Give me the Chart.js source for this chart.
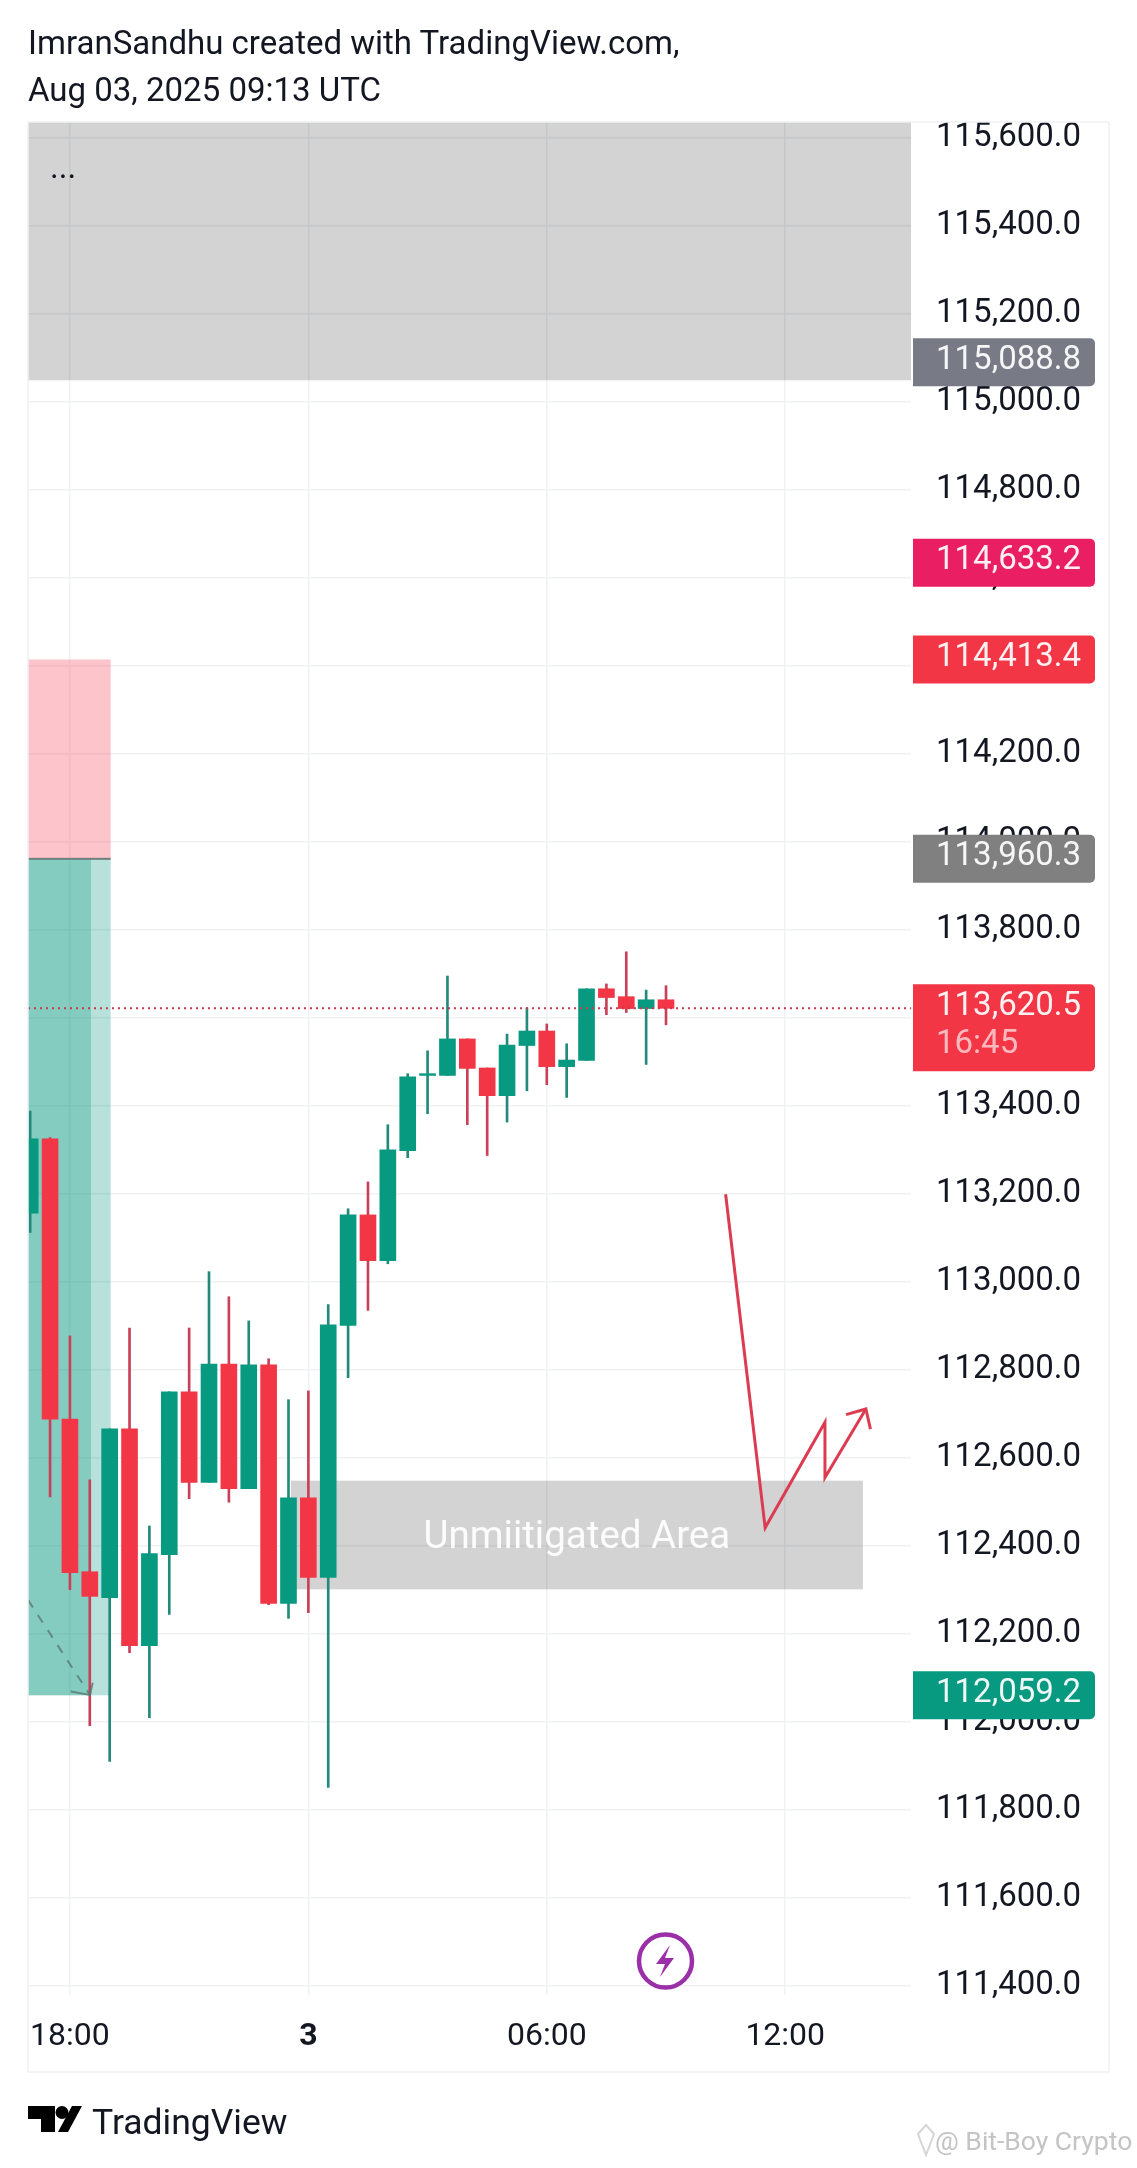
<!DOCTYPE html>
<html>
<head>
<meta charset="utf-8">
<title>BTCUSD 30m</title>
<script src="https://cdn.jsdelivr.net/npm/chart.js@4/dist/chart.umd.min.js"></script>
<style>
html,body{margin:0;padding:0;background:#fff;font-family:Roboto,sans-serif;color:#131722}
#wrap{position:relative;width:1137px;height:2168px;overflow:hidden}
#c{position:absolute;left:0;top:0}
.t{position:absolute;white-space:nowrap}
#head{left:28px;top:19px;font-size:33px;line-height:47px}
#more{left:50px;top:147px;font-size:33px}
#brand{left:92px;top:2098px;font-size:35.500px;line-height:48px}
#mark{left:935px;top:2122px;font-size:26.500px;line-height:38px;color:#c4c4c4}
svg{position:absolute;left:0;top:0}
</style>
</head>
<body>
<div id="wrap">
  <canvas id="c" width="1137" height="2168"></canvas>
  <div class="t" id="head">ImranSandhu created with TradingView.com,<br>Aug 03, 2025 09:13 UTC</div>
  <div class="t" id="more">...</div>
  <div class="t" id="brand">TradingView</div>
  <div class="t" id="mark">@ Bit-Boy Crypto</div>
  <svg width="1137" height="2168">
    <path d="M28 2106H55V2132H41V2119H28Z" fill="#000"/><circle cx="62" cy="2112.500" r="6.500" fill="#000"/><path d="M72 2106H82L68 2132H58Z" fill="#000"/>
    <circle cx="665.500" cy="1961" r="26.500" fill="#fff" stroke="#9a2fa8" stroke-width="4.500"/>
    <path d="M670 1945L656 1964H665L660 1977L674 1958H665Z" fill="#9a2fa8"/>
    <path d="M918 2134L926 2125L934 2134L926 2155Z" fill="none" stroke="#d5d5d5" stroke-width="2"/>
  </svg>
</div>
<script>
// ── Data ──────────────────────────────────────────────────────────────────────
const opens =[113155,113324,112687,112340,112281,112665,112172,112379,112749,112543,112812,112529,112810,112268,112508,112327,112900,113151,113047,113297,113468,113468,113551,113485,113422,113536,113569,113488,113502,113665,113647,113620,113640];
const highs =[113387,113327,112876,112549,112665,112894,112444,112749,112894,113022,112965,112910,112824,112731,112751,112947,113165,113226,113356,113472,113524,113694,113551,113485,113562,113622,113585,113540,113665,113676,113749,113662,113672];
const lows  =[113111,112510,112299,111990,111909,112156,112008,112243,112506,112543,112498,112529,112265,112234,112247,111850,112781,112934,113040,113281,113381,113468,113356,113286,113362,113433,113447,113418,113502,113606,113611,113493,113583];
const closes=[113324,112687,112338,112284,112665,112172,112381,112749,112543,112812,112529,112810,112268,112508,112327,112901,113151,113047,113299,113465,113472,113551,113484,113422,113537,113569,113488,113503,113665,113645,113620,113640,113620.5];

const yTicks=[111400,111600,111800,112000,112200,112400,112600,112800,113000,113200,113400,113600,113800,114000,114200,114400,114600,114800,115000,115200,115400,115600];
const xTicks=[2,14,26,38];
const xTickLabels=['18:00','3','06:00','12:00'];

const lastPrice=113620.5;
const countdown='16:45';
const tagPrices=[115088.8,114633.2,114413.4,113960.3,113620.5,112059.2];

// zones: drawn in this order
const xMin=-0.11, xMax=44.33;
const zoneLeft =[xMin,xMin,xMin,xMin,13.12];
const zoneRight=[xMax,4.05,4.05,3.06,41.91];
const zoneTop  =[115635,114413.4,113960.3,113960.3,112547];
const zoneBottom=[115048,113960.3,112059.2,112059.2,112300];
const zoneLabel='Unmiitigated Area';

const pathX=[35,36.99,40,40,42.06];
const pathY=[113198,112440,112680,112554,112710];
const headX=[41.06,42.06,42.29];
const headY=[112697,112710,112664];
const dashX=[-0.11,3.01];
const dashY=[112276,112060];
const dashHeadX=[2.04,3.01,3.15];
const dashHeadY=[112068,112060,112088];

// ── Styles ────────────────────────────────────────────────────────────────────
const UP='#089981', DN='#f23645', UPW='#23897b', DNW='#c8405a';
const tagColors=['#787b86','#e91e63','#f23645','#808080','#f23645','#089981'];
const zoneFill=['rgba(0,0,0,0.172)','rgba(247,50,80,0.29)','rgba(8,153,129,0.29)','rgba(8,153,129,0.29)','rgba(0,0,0,0.172)'];
const FONT='Roboto, sans-serif';
const toXY=(xs,ys)=>xs.map((x,i)=>({x,y:ys[i]}));
const idx=opens.map((_,i)=>i);
const isUp=i=>closes[i]>=opens[i];

// ── Overlays ──────────────────────────────────────────────────────────────────
const zonesPlugin={id:'zones',beforeDatasetsDraw(chart){
  const cx=chart.ctx,x=chart.scales.x,y=chart.scales.y,a=chart.chartArea;
  cx.save();
  cx.beginPath();cx.rect(a.left,a.top,a.right-a.left,a.bottom-a.top);cx.clip();
  zoneLeft.forEach((l,i)=>{
    const x0=x.getPixelForValue(l),x1=x.getPixelForValue(zoneRight[i]);
    const y0=y.getPixelForValue(zoneTop[i]),y1=y.getPixelForValue(zoneBottom[i]);
    cx.fillStyle=zoneFill[i];cx.fillRect(x0,y0,x1-x0,y1-y0);
  });
  // entry line between the two halves of the position box
  const ey=y.getPixelForValue(113960.3);
  cx.fillStyle='#6f7f7c';cx.fillRect(x.getPixelForValue(xMin),ey-1,x.getPixelForValue(4.05)-x.getPixelForValue(xMin),2);
  cx.restore();
},afterDatasetsDraw(chart){
  const cx=chart.ctx,x=chart.scales.x,y=chart.scales.y,n=zoneLeft.length-1;
  cx.save();
  cx.fillStyle='rgba(255,255,255,0.92)';cx.font='38.5px '+FONT;cx.textAlign='center';cx.textBaseline='middle';
  cx.fillText(zoneLabel,(x.getPixelForValue(zoneLeft[n])+x.getPixelForValue(zoneRight[n]))/2,(y.getPixelForValue(zoneTop[n])+y.getPixelForValue(zoneBottom[n]))/2+3);
  cx.restore();
}};

const tagsPlugin={id:'tags',afterDraw(chart){
  const cx=chart.ctx,y=chart.scales.y,left=chart.chartArea.right+2,w=182;
  cx.save();
  cx.textBaseline='middle';cx.textAlign='left';
  tagPrices.forEach((p,i)=>{
    const py=y.getPixelForValue(p),isLast=p===lastPrice;
    cx.fillStyle=tagColors[i];
    cx.beginPath();cx.roundRect(left,py-24,w,isLast?87:48,[0,5,5,0]);cx.fill();
    cx.font='33px '+FONT;cx.fillStyle='rgba(255,255,255,0.93)';
    cx.fillText(p.toLocaleString('en-US',{minimumFractionDigits:1,maximumFractionDigits:1}),left+23,py-2);
    if (isLast) { cx.fillStyle='rgba(255,255,255,0.65)';cx.fillText(countdown,left+23,py+36); }
  });
  // outer frame of the pane
  const a=chart.chartArea;
  cx.strokeStyle='#f0f1f3';cx.lineWidth=1.5;
  cx.strokeRect(a.left,a.top,1109-a.left,2072-a.top);
  cx.restore();
}};

// ── Chart ─────────────────────────────────────────────────────────────────────
new Chart(document.getElementById('c').getContext('2d'),{
  type:'bar',
  plugins:[zonesPlugin,tagsPlugin],
  data:{datasets:[
    {type:'line',data:[{x:xMin,y:lastPrice},{x:xMax,y:lastPrice}],borderColor:'#c83a4d',borderWidth:2,borderDash:[2,4],pointRadius:0,order:0},
    {type:'line',data:toXY(pathX,pathY),borderColor:'#dc3c52',borderWidth:3,pointRadius:0,tension:0,order:1},
    {type:'line',data:toXY(headX,headY),borderColor:'#dc3c52',borderWidth:3,pointRadius:0,tension:0,order:1},
    {type:'line',data:toXY(dashX,dashY),borderColor:'rgba(90,120,115,0.8)',borderWidth:2,borderDash:[9,9],pointRadius:0,tension:0,order:1},
    {type:'line',data:toXY(dashHeadX,dashHeadY),borderColor:'rgba(90,120,115,0.8)',borderWidth:2,pointRadius:0,tension:0,order:1},
    {data:idx.map(i=>({x:i,y:[Math.min(opens[i],closes[i]),Math.max(opens[i],closes[i])]})),backgroundColor:idx.map(i=>isUp(i)?UP:DN),barThickness:16,grouped:false,borderWidth:0,order:2},
    {data:idx.map(i=>({x:i,y:[lows[i],highs[i]]})),backgroundColor:idx.map(i=>isUp(i)?UPW:DNW),barThickness:2,grouped:false,borderWidth:0,order:3}
  ]},
  options:{
    responsive:false,devicePixelRatio:1,animation:false,
    layout:{padding:{left:28,top:122,right:28,bottom:96}},
    plugins:{legend:{display:false},tooltip:{enabled:false}},
    scales:{
      x:{type:'linear',min:xMin,max:xMax,offset:false,
        grid:{color:'#f0f1f3',lineWidth:1.5,drawTicks:false,offset:false},border:{display:false},
        afterBuildTicks:ax=>{ax.ticks=xTicks.map(v=>({value:v}));},
        afterFit:ax=>{ax.height=77;},
        ticks:{autoSkip:false,maxRotation:0,padding:23,color:'#131722',
          font:c=>({family:FONT,size:32,weight:c.tick&&c.tick.value===14?'700':'400'}),
          callback:v=>xTickLabels[xTicks.indexOf(v)]}},
      y:{position:'right',min:111378,max:115635,
        grid:{color:'#f0f1f3',lineWidth:1.5,drawTicks:false},border:{display:false},
        afterBuildTicks:ax=>{ax.ticks=yTicks.map(v=>({value:v}));},
        afterFit:ax=>{ax.width=198;},
        ticks:{autoSkip:false,padding:25,crossAlign:'near',color:'#131722',font:{family:FONT,size:33},
          callback:v=>v.toLocaleString('en-US',{minimumFractionDigits:1,maximumFractionDigits:1})}}
    }
  }
});
</script>
</body>
</html>
